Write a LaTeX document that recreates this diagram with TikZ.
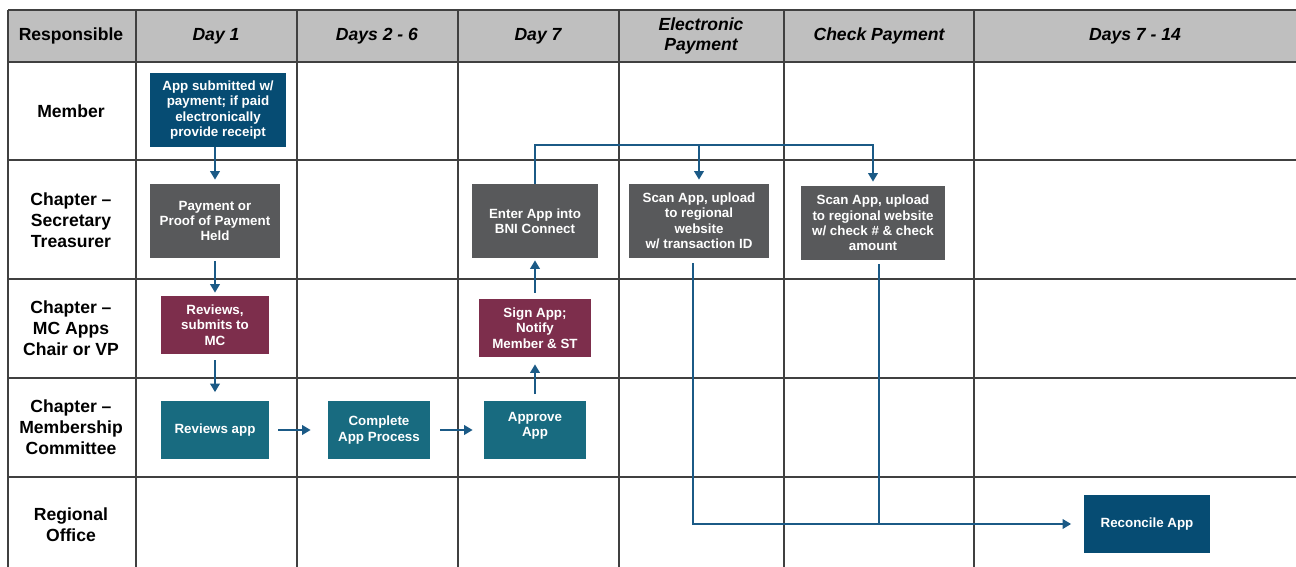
\documentclass[tikz,border=0pt]{standalone}
\usepackage{fontspec}
\setmainfont{Liberation Sans}
\usetikzlibrary{positioning,arrows.meta}

\definecolor{hdrfill}{HTML}{BFBFBF}
\definecolor{memberblue}{HTML}{064C73}
\definecolor{stgray}{HTML}{58595B}
\definecolor{vpmaroon}{HTML}{7D2E4C}
\definecolor{mcteal}{HTML}{186B80}
\definecolor{flowblue}{HTML}{1B5A86}

\def\toprow{10}
\def\hdrrow{62}
\def\picbottom{567}
\def\picright{1296}

\tikzset{
  gridline/.style={draw=black!75, line width=0.9pt},
  lanelabel/.style={font=\fontsize{10}{12}\selectfont\bfseries, align=center},
  hdrlabel/.style={font=\fontsize{10}{11.4}\selectfont\bfseries\itshape, align=center},
  task/.style={font=\fontsize{7.6}{8.8}\selectfont\bfseries, text=white, align=center, inner sep=2pt},
  flow/.style={draw=flowblue, line width=1.1pt, -{Triangle[length=1.7mm,width=1.9mm]}},
  flowline/.style={draw=flowblue, line width=1.1pt},
}

\begin{document}
\begin{tikzpicture}[x=0.02cm, y=-0.02cm]
  \useasboundingbox (0,0) rectangle (\picright,\picbottom);

  % swimlane grid
  \fill[hdrfill] (8,\toprow) rectangle (\picright,\hdrrow);
  \foreach \x in {8,136,297,458,619,784,974}
    \draw[gridline] (\x,\toprow) -- (\x,\picbottom);
  \foreach \y in {10,62,160,279,378,477}
    \draw[gridline] (8,\y) -- (\picright,\y);

  % column heads
  \node[lanelabel] (hd-resp) at (71,36) {Responsible};
  \foreach \name/\x/\txt in {day1/216/Day 1, day2/377/Days 2 - 6, day7/538/Day 7,
      epay/701/{Electronic\\Payment}, cpay/879/Check Payment, day14/1135/Days 7 - 14}
    \node[hdrlabel] (hd-\name) at (\x,36) {\txt};

  % lane names
  \foreach \name/\y/\txt in {member/111/Member, st/220/{Chapter --\\Secretary\\Treasurer},
      vp/328/{Chapter --\\MC Apps\\Chair or VP}, mc/427/{Chapter --\\Membership\\Committee},
      region/525/{Regional\\Office}}
    \node[lanelabel] (lane-\name) at (71,\y) {\txt};

  % tasks
  \node[task, fill=memberblue, minimum width=2.72cm, minimum height=1.48cm] (submit) at (218,110)
    {App submitted w/\\payment; if paid\\electronically\\provide receipt};
  \node[task, fill=stgray, minimum width=2.6cm, minimum height=1.48cm] (held) at (215,221)
    {Payment or\\Proof of Payment\\Held};
  \node[task, fill=vpmaroon, minimum width=2.16cm, minimum height=1.16cm] (vpreview) at (215,325)
    {Reviews,\\submits to\\MC};
  \node[task, fill=mcteal, minimum width=2.16cm, minimum height=1.18cm] (mcreview) at (215,430)
    {Reviews app};
  \node[task, fill=mcteal, minimum width=2.04cm, minimum height=1.18cm] (complete) at (379,430)
    {Complete\\App Process};
  \node[task, fill=mcteal, minimum width=2.04cm, minimum height=1.18cm] (approve) at (535,430)
    {Approve\\App\\[-0.3em]};
  \node[task, fill=vpmaroon, minimum width=2.24cm, minimum height=1.16cm] (sign) at (535,328)
    {Sign App;\\Notify\\Member \& ST};
  \node[task, fill=stgray, minimum width=2.54cm, minimum height=1.48cm] (enter) at (535,221)
    {Enter App into\\BNI Connect};
  \node[task, fill=stgray, minimum width=2.8cm, minimum height=1.48cm] (scanepay) at (699,221)
    {Scan App, upload\\to regional\\website\\w/ transaction ID};
  \node[task, fill=stgray, minimum width=2.88cm, minimum height=1.48cm] (scancheck) at (873,223)
    {Scan App, upload\\to regional website\\w/ check \# \& check\\amount};
  \node[task, fill=memberblue, minimum width=2.54cm, minimum height=1.16cm] (reconcile) at (1147,524)
    {Reconcile App};

  % flow
  \draw[flow, shorten >=0.08cm] (held.north |- submit.south) -- (held.north);
  \draw[flow, shorten <=0.06cm, shorten >=0.06cm] (held) -- (vpreview);
  \draw[flow, shorten <=0.12cm, shorten >=0.16cm] (vpreview) -- (mcreview);
  \draw[flow, shorten <=0.18cm, shorten >=0.34cm] (mcreview) -- (complete);
  \draw[flow, shorten <=0.2cm, shorten >=0.22cm] (complete) -- (approve);
  \draw[flow, shorten <=0.12cm, shorten >=0.14cm] (approve) -- (sign);
  \draw[flow, shorten <=0.12cm, shorten >=0.04cm] (sign) -- (enter);

  \coordinate (fork) at (535,145);
  \draw[flow, shorten >=0.08cm] (enter.north) -- (fork) -| (scancheck.north);
  \draw[flow, shorten >=0.08cm] (fork) -| (scanepay.north);

  \draw[flow, shorten <=0.1cm, shorten >=0.24cm] ([xshift=-0.12cm]scanepay.south) |- (reconcile.west);
  \draw[flowline, shorten <=0.08cm] ([xshift=0.12cm]scancheck.south)
    -- ([xshift=0.12cm]scancheck.south |- reconcile.west);
\end{tikzpicture}
\end{document}
